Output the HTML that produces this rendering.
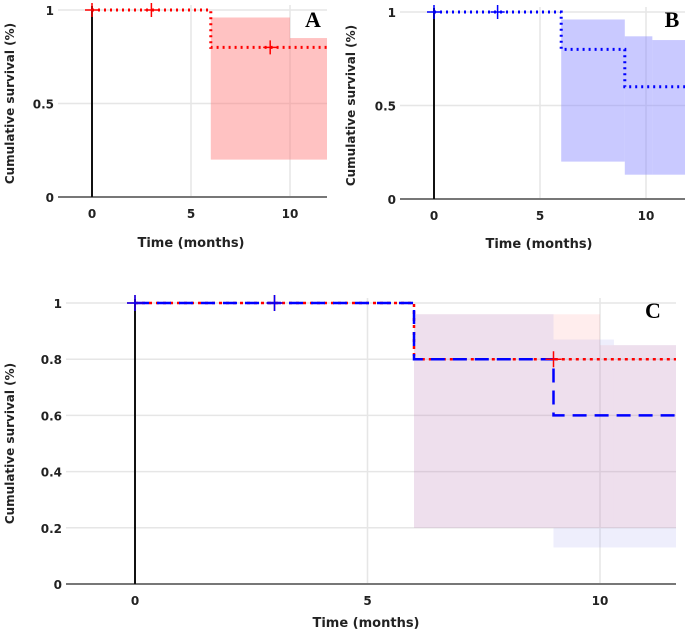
<!DOCTYPE html>
<html><head><meta charset="utf-8"><style>
html,body{margin:0;padding:0;background:#fff;width:685px;height:635px;overflow:hidden}
svg text{font-family:"DejaVu Sans","Liberation Sans",sans-serif;font-weight:bold;fill:#222}
</style></head><body>
<svg id="chart" width="685" height="635" xmlns="http://www.w3.org/2000/svg"></svg>
<script>
// Data
const stepTimesA = [0, 6, 12];
const survA = [1, 0.8, 0.8];
const censorA = [[0,1],[3,1],[9,0.8]];
const ciTimesA = [6, 10, 12];
const ciUpperA = [0.96, 0.85];
const ciLowerA = [0.2, 0.2];

const stepTimesB = [0, 6, 9, 12];
const survB = [1, 0.8, 0.6, 0.6];
const censorB = [[0,1],[3,1]];
const ciTimesB = [6, 9, 10.3, 12];
const ciUpperB = [0.96, 0.87, 0.85];
const ciLowerB = [0.2, 0.13, 0.13];

const yTicksAB = [0, 0.5, 1];
const yTickLabelsAB = ["0", "0.5", "1"];
const yTicksC = [0, 0.2, 0.4, 0.6, 0.8, 1];
const yTickLabelsC = ["0", "0.2", "0.4", "0.6", "0.8", "1"];
const xTicks = [0, 5, 10];
const xTickLabels = ["0", "5", "10"];

const svg = document.getElementById('chart');
const NS = 'http://www.w3.org/2000/svg';
function mk(tag, attrs, parent){const e=document.createElementNS(NS,tag);for(const k in attrs)e.setAttribute(k,attrs[k]);(parent||svg).appendChild(e);return e;}
const defs = mk('defs',{});

function panel(cfg){
  const g = mk('g',{});
  
  
  const X = t => cfg.x0 + t*cfg.xs;
  const Y = v => cfg.y0 - v*(cfg.y0-cfg.y1);
  const cp = mk('clipPath',{id:'clip-'+cfg.name},defs);
  mk('rect',{x:cfg.left,y:0,width:cfg.right-cfg.left,height:640},cp);
  cfg.yTicks.forEach((v,i)=>{
    const l=mk('line',{x1:cfg.left,x2:cfg.right,y1:Y(v),y2:Y(v),stroke:'#e6e6e6','stroke-width':1.5},g);
    
    
    const t=mk('text',{x:cfg.left-4,y:Y(v)+5,'text-anchor':'end','font-size':cfg.fs},g);
    t.textContent=cfg.yLabels[i];
    
    
  });
  xTicks.forEach((v,i)=>{
    if(v>0){const l=mk('line',{x1:X(v),x2:X(v),y1:cfg.y1-5,y2:Y(0),stroke:'#e6e6e6','stroke-width':1.5},g);
    
    }
    const t=mk('text',{x:X(v),y:Y(0)+cfg.fs+9,'text-anchor':'middle','font-size':cfg.fs},g);
    t.textContent=xTickLabels[i];
    
    
  });
  const inner = mk('g',{'clip-path':'url(#clip-'+cfg.name+')'},g);
  
  
  cfg.bands.forEach(b=>{
    for(let i=0;i<b.up.length;i++){
      const r=mk('rect',{x:X(b.t[i]),y:Y(b.up[i]),width:X(b.t[i+1])-X(b.t[i]),height:Y(b.lo[i])-Y(b.up[i]),fill:b.fill,'fill-opacity':b.op},inner);
      
      
    }
  });
  const xa=mk('line',{x1:cfg.left,x2:cfg.right,y1:Y(0),y2:Y(0),stroke:'#777','stroke-width':2},g);
  
  
  const za=mk('line',{x1:X(0),x2:X(0),y1:Y(1)-4,y2:Y(0),stroke:'#111','stroke-width':2},g);
  
  
  cfg.curves.forEach(c=>{
    let d=`M${X(c.t[0])},${Y(c.s[0])}`;
    for(let i=1;i<c.t.length;i++){d+=` H${X(c.t[i])} V${Y(c.s[i])}`;}
    const p=mk('path',{d:d,fill:'none',stroke:c.color,'stroke-width':c.w,'stroke-dasharray':c.dash},inner);
    
    
    c.cens.forEach(pt=>{
      const m=mk('path',{d:`M${X(pt[0])-cfg.cm},${Y(pt[1])} h${2*cfg.cm} M${X(pt[0])},${Y(pt[1])-cfg.cm} v${2*cfg.cm}`,stroke:c.color,'stroke-width':1.5,fill:'none'},g);
      
      
    });
  });
  const yt=mk('text',{x:0,y:0,'text-anchor':'middle','font-size':cfg.fs,transform:`translate(${cfg.ytx},${(Y(0)+Y(1))/2}) rotate(-90)`},g);
  yt.textContent='Cumulative survival (%)';
  
  
  const xt=mk('text',{x:cfg.xtx,y:cfg.xty,'text-anchor':'middle','font-size':cfg.fs+1},g);
  xt.textContent='Time (months)';
  
  
  const lab=mk('text',{x:cfg.labx,y:cfg.laby,'font-size':22,'text-anchor':'middle',style:'font-family:"Liberation Serif",serif;fill:#000'},g);
  lab.textContent=cfg.label;
  
  
}

panel({name:'panel-a',x0:92,xs:19.8,y0:197,y1:10,left:58,right:327,fs:12,cm:7,yTicks:yTicksAB,yLabels:yTickLabelsAB,
  bands:[{t:ciTimesA,up:ciUpperA,lo:ciLowerA,fill:'#f77',op:0.45}],
  curves:[{name:'survival-curve-a',t:stepTimesA,s:survA,color:'#f00',w:3,dash:'2 4',cens:censorA}],
  ytx:14,xtx:191,xty:247,label:'A',labx:313,laby:27});
panel({name:'panel-b',x0:434,xs:21.2,y0:199,y1:12,left:400,right:685,fs:12,cm:7,yTicks:yTicksAB,yLabels:yTickLabelsAB,
  bands:[{t:ciTimesB,up:ciUpperB,lo:ciLowerB,fill:'#88f',op:0.45}],
  curves:[{name:'survival-curve-b',t:stepTimesB,s:survB,color:'#00f',w:3,dash:'2 4',cens:censorB}],
  ytx:355,xtx:539,xty:248,label:'B',labx:672,laby:27});
panel({name:'panel-c',x0:135,xs:46.5,y0:584,y1:303,left:66,right:676,fs:12,cm:8,yTicks:yTicksC,yLabels:yTickLabelsC,
  bands:[{t:ciTimesA,up:ciUpperA,lo:ciLowerA,fill:'#f88',op:0.15},{t:ciTimesB,up:ciUpperB,lo:ciLowerB,fill:'#99e',op:0.17}],
  curves:[{name:'survival-curve-c-red',t:stepTimesA,s:survA,color:'#f00',w:2.5,dash:'3 4',cens:censorA},
          {name:'survival-curve-c-blue',t:stepTimesB,s:survB,color:'#00f',w:2.5,dash:'14 8',cens:censorB}],
  ytx:14,xtx:366,xty:627,label:'C',labx:653,laby:318});
</script>
</body></html>
